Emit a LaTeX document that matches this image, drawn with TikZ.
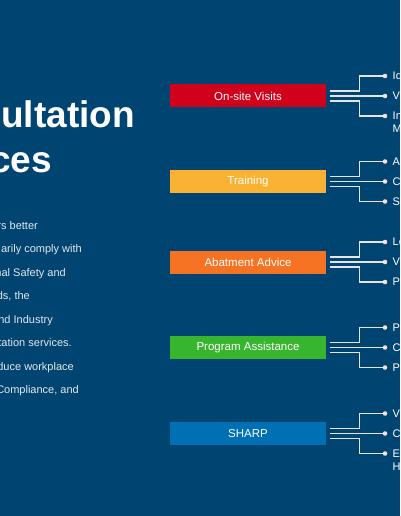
\documentclass[tikz,border=0pt]{standalone}
\usepackage{fontspec}
\setmainfont{Liberation Sans}
\usetikzlibrary{positioning}
\definecolor{navy}{RGB}{0,69,113}
\definecolor{myred}{RGB}{208,2,27}
\definecolor{myyellow}{RGB}{249,178,51}
\definecolor{myorange}{RGB}{245,115,35}
\definecolor{mygreen}{RGB}{56,181,46}
\definecolor{myblue}{RGB}{0,112,180}
\definecolor{wirecol}{RGB}{232,226,224}
\definecolor{dotpink}{RGB}{248,222,216}
\definecolor{paracol}{RGB}{228,231,236}

\begin{document}
\begin{tikzpicture}[x=1pt,y=-1pt,
    service/.style={rectangle, minimum width=156pt, minimum height=23pt, inner sep=0pt, text=white, font=\fontsize{11.5}{13}\selectfont},
    bullet/.style={circle, fill=dotpink, minimum size=4.6pt, inner sep=0pt},
    item/.style={text=white, font=\fontsize{11}{13}\selectfont, inner sep=0pt},
    wire/.style={draw=wirecol, line width=1.3pt},
    heading/.style={text=white, font=\fontsize{37}{40}\selectfont\bfseries, inner sep=0pt, anchor=base east},
    blurb/.style={text=paracol, font=\fontsize{11}{13}\selectfont, inner sep=0pt, anchor=base east}]

        \fill[navy] (0,0) rectangle (400,516);
        \clip (0,0) rectangle (400,516);

        % title and text on the left
        \node[heading] (head1) at (135,128) {ultation};
        \node[heading] (head2) at (52,172) {ces};
        \node[blurb] (p1) at (38,229) {rs better};
        \node[blurb] (p2) at (82,252.5) {arily comply with};
        \node[blurb] (p3) at (66,276) {nal Safety and};
        \node[blurb] (p4) at (30,299.5) {ds, the};
        \node[blurb] (p5) at (53,323) {nd Industry};
        \node[blurb] (p6) at (72,346.5) {tation services.};
        \node[blurb] (p7) at (74,370) {duce workplace};
        \node[blurb] (p8) at (79,393.5) {Compliance, and};

        % service boxes
        \node[service, fill=myred] (onsite) at (248,96) {On-site Visits};
        \node[service, fill=myyellow] (training) at (248,181.5) {Training};
        \node[service, fill=myorange] (abate) at (248,262) {Abatment Advice};
        \node[service, fill=mygreen] (program) at (248,347.5) {Program Assistance};
        \node[service, fill=myblue] (sharp) at (248,433.5) {SHARP};

        % on-site visits
        \node[bullet] (os1) at (385,76) {};
        \node[bullet] (os2) at (385,96) {};
        \node[bullet] (os3) at (385,116) {};
        \draw[wire] ([xshift=4pt,yshift=5pt]onsite.east) -- ++(29,0) |- (os1);
        \draw[wire] ([xshift=4pt]onsite.east) -- (os2);
        \draw[wire] ([xshift=4pt,yshift=-5pt]onsite.east) -- ++(29,0) |- (os3);
        \node[item, right=5pt of os1] (os1t) {Id};
        \node[item, right=5pt of os2] (os2t) {Vi};
        \node[item, align=left, anchor=north west] (os3t) at ([xshift=5pt,yshift=4pt]os3.east) {In\\M};

        % training
        \node[bullet] (tr1) at (385,161.5) {};
        \node[bullet] (tr2) at (385,181.5) {};
        \node[bullet] (tr3) at (385,201.5) {};
        \draw[wire] ([xshift=4pt,yshift=5pt]training.east) -- ++(29,0) |- (tr1);
        \draw[wire] ([xshift=4pt]training.east) -- (tr2);
        \draw[wire] ([xshift=4pt,yshift=-5pt]training.east) -- ++(29,0) |- (tr3);
        \node[item, right=5pt of tr1] (tr1t) {A};
        \node[item, right=5pt of tr2] (tr2t) {C};
        \node[item, right=5pt of tr3] (tr3t) {S};

        % abatement advice
        \node[bullet] (ab1) at (385,242) {};
        \node[bullet] (ab2) at (385,262) {};
        \node[bullet] (ab3) at (385,282) {};
        \draw[wire] ([xshift=4pt,yshift=5pt]abate.east) -- ++(29,0) |- (ab1);
        \draw[wire] ([xshift=4pt]abate.east) -- (ab2);
        \draw[wire] ([xshift=4pt,yshift=-5pt]abate.east) -- ++(29,0) |- (ab3);
        \node[item, right=5pt of ab1] (ab1t) {Le};
        \node[item, right=5pt of ab2] (ab2t) {V};
        \node[item, right=5pt of ab3] (ab3t) {P};

        % program assistance
        \node[bullet] (pa1) at (385,327.5) {};
        \node[bullet] (pa2) at (385,347.5) {};
        \node[bullet] (pa3) at (385,367.5) {};
        \draw[wire] ([xshift=4pt,yshift=5pt]program.east) -- ++(29,0) |- (pa1);
        \draw[wire] ([xshift=4pt]program.east) -- (pa2);
        \draw[wire] ([xshift=4pt,yshift=-5pt]program.east) -- ++(29,0) |- (pa3);
        \node[item, right=5pt of pa1] (pa1t) {P};
        \node[item, right=5pt of pa2] (pa2t) {C};
        \node[item, right=5pt of pa3] (pa3t) {P};

        % sharp
        \node[bullet] (sh1) at (385,413.5) {};
        \node[bullet] (sh2) at (385,433.5) {};
        \node[bullet] (sh3) at (385,453.5) {};
        \draw[wire] ([xshift=4pt,yshift=5pt]sharp.east) -- ++(29,0) |- (sh1);
        \draw[wire] ([xshift=4pt]sharp.east) -- (sh2);
        \draw[wire] ([xshift=4pt,yshift=-5pt]sharp.east) -- ++(29,0) |- (sh3);
        \node[item, right=5pt of sh1] (sh1t) {V};
        \node[item, right=5pt of sh2] (sh2t) {C};
        \node[item, align=left, anchor=north west] (sh3t) at ([xshift=5pt,yshift=4pt]sh3.east) {E\\H};
\end{tikzpicture}
\end{document}
